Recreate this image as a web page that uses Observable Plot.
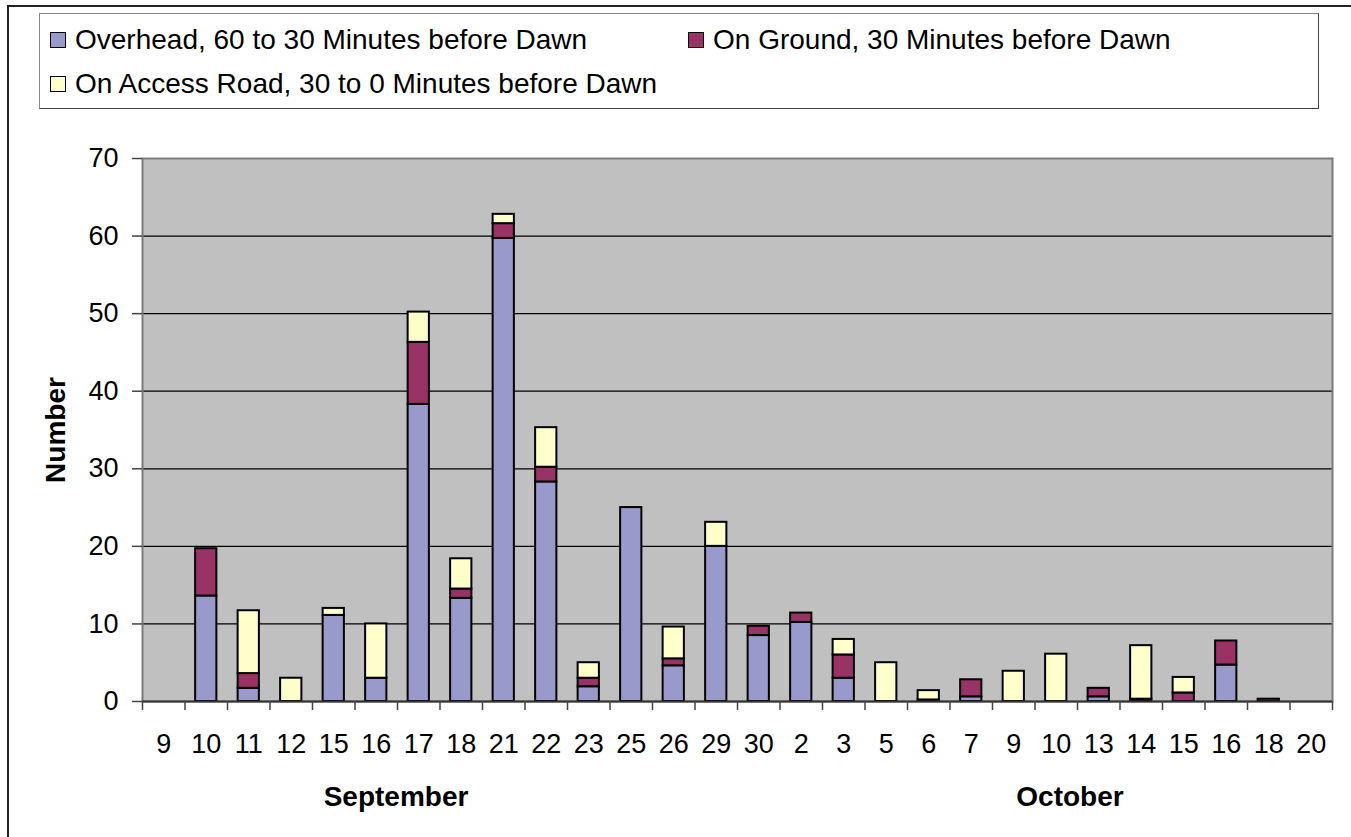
<!DOCTYPE html>
<html>
<head>
<meta charset="utf-8">
<script src="https://cdn.jsdelivr.net/npm/d3@7"></script>
<script src="https://cdn.jsdelivr.net/npm/@observablehq/plot@0.6"></script>
<style>
  html, body { margin: 0; padding: 0; background: #fff; }
  #chart { position: relative; width: 1351px; height: 837px; overflow: hidden;
           font-family: "Liberation Sans", Arial, sans-serif; color: #000; }
  #outer { position: absolute; left: 7px; top: 5px; width: 1400px; height: 900px;
           border-left: 2px solid #222; border-top: 2px solid #222; }
  #plot { position: absolute; left: 0; top: 0; }
  #legend { position: absolute; left: 39px; top: 13px; width: 1278px; height: 94px;
            border: 1px solid #444; border-top-color: #888; border-left-color: #888; background: #fff; }
  .item { position: absolute; display: flex; align-items: center; height: 30px;
          font-size: 28px; white-space: nowrap; }
  .sw { width: 14px; height: 14px; border: 1.5px solid #000; margin-right: 9px; flex: none; }
  .month { position: absolute; top: 781px; font-weight: bold; font-size: 28px;
           transform: translateX(-50%); white-space: nowrap; }
  #plot g[aria-label="y-axis label"] text { font-weight: bold; font-size: 28px; }
</style>
</head>
<body>
<div id="chart">
  <div id="outer"></div>
  <div id="plot"></div>
  <div id="legend"></div>
</div>
<script>
// Days of observation (September then October)
const days = [9, 10, 11, 12, 15, 16, 17, 18, 21, 22, 23, 25, 26, 29, 30,
              2, 3, 5, 6, 7, 9, 10, 13, 14, 15, 16, 18, 20];
const months = ["Sep", "Sep", "Sep", "Sep", "Sep", "Sep", "Sep", "Sep", "Sep", "Sep", "Sep", "Sep", "Sep", "Sep", "Sep",
                "Oct", "Oct", "Oct", "Oct", "Oct", "Oct", "Oct", "Oct", "Oct", "Oct", "Oct", "Oct", "Oct"];

// Counts per series
const overhead = [0, 13.6, 1.7, 0, 11.1, 3.0, 38.3, 13.3, 59.7, 28.3, 1.9, 25.0, 4.6, 20.0, 8.5,
                  10.2, 3.0, 0, 0, 0.6, 0, 0, 0.6, 0, 0, 4.7, 0, 0];
const ground   = [0, 6.1, 1.9, 0, 0, 0, 8.0, 1.2, 1.9, 1.9, 1.1, 0, 0.9, 0, 1.2,
                  1.2, 3.0, 0, 0.2, 2.2, 0, 0, 1.1, 0.3, 1.1, 3.1, 0.3, 0];
const road     = [0, 0, 8.1, 3.0, 0.9, 7.0, 3.9, 3.9, 1.2, 5.1, 2.0, 0, 4.1, 3.1, 0,
                  0, 2.0, 5.0, 1.2, 0, 3.9, 6.1, 0, 6.9, 2.0, 0, 0, 0];

const seriesNames = ["Overhead, 60 to 30 Minutes before Dawn",
                     "On Ground, 30 Minutes before Dawn",
                     "On Access Road, 30 to 0 Minutes before Dawn"];
const colors = ["#9999CC", "#993366", "#FFFFCC"];
const yTicks = [0, 10, 20, 30, 40, 50, 60, 70];
const monthTitles = ["September", "October"];

// Unique band keys (day numbers repeat across months)
const keys = days.map((d, i) => `${months[i]} ${d}`);
const dayLabel = new Map(keys.map((k, i) => [k, String(days[i])]));

// Long-form table for stacking; empty segments are skipped
const seriesValues = [overhead, ground, road];
const rows = [];
seriesNames.forEach((name, j) => {
  seriesValues[j].forEach((v, i) => {
    if (v > 0) rows.push({key: keys[i], series: name, value: v});
  });
});

const W = 1351, H = 837;
const mL = 142, mR = 19, mT = 158, mB = 136;
const step = (W - mL - mR) / keys.length;

const chart = Plot.plot({
  width: W,
  height: H,
  marginLeft: mL,
  marginRight: mR,
  marginTop: mT,
  marginBottom: mB,
  style: {fontFamily: '"Liberation Sans", Arial, sans-serif', fontSize: "27px",
          color: "#000", background: "transparent", overflow: "visible"},
  x: {type: "band", domain: keys, padding: 0, round: false, axis: null, label: null},
  y: {domain: [0, 70], axis: null, label: null},
  color: {domain: seriesNames, range: colors},
  marks: [
    Plot.frame({fill: "#C0C0C0", stroke: null}),
    Plot.gridY(yTicks.filter(t => t > 0 && t < 70), {stroke: "#000", strokeOpacity: 1, strokeWidth: 1.2}),
    Plot.frame({stroke: "#7a7a7a", strokeWidth: 2}),
    Plot.barY(rows, Plot.stackY({
      x: "key", y: "value", fill: "series",
      stroke: "#000", strokeWidth: 2,
      insetLeft: step / 4, insetRight: step / 4
    })),
    Plot.ruleY([0], {stroke: "#333", strokeWidth: 2}),
    // category boundary ticks below the baseline
    Plot.ruleX(keys, {x: d => d, dx: -step / 2, insetTop: H - mT - mB, insetBottom: -9, stroke: "#444", strokeWidth: 1.5}),
    Plot.ruleX(keys.slice(-1), {x: d => d, dx: step / 2, insetTop: H - mT - mB, insetBottom: -9, stroke: "#444", strokeWidth: 1.5}),
    Plot.axisX({tickSize: 0, tickPadding: 32, tickFormat: k => dayLabel.get(k), label: null}),
    Plot.axisY({ticks: yTicks, tickSize: 10, tickPadding: 14, stroke: "#444", strokeWidth: 1.5,
                label: "Number", labelArrow: "none", labelAnchor: "center", labelOffset: 97})
  ]
});
document.getElementById("plot").appendChild(chart);

// Legend
const legend = document.getElementById("legend");
const legendPos = [[10, 11], [648, 11], [10, 55]];
seriesNames.forEach((name, j) => {
  const item = document.createElement("div");
  item.className = "item";
  item.style.left = legendPos[j][0] + "px";
  item.style.top = legendPos[j][1] + "px";
  const sw = document.createElement("span");
  sw.className = "sw";
  sw.style.background = colors[j];
  const label = document.createElement("span");
  label.textContent = name;
  item.append(sw, label);
  legend.appendChild(item);
});

// Month titles under the day labels
const monthCenters = [396, 1070];
monthTitles.forEach((m, i) => {
  const el = document.createElement("div");
  el.className = "month";
  el.style.left = monthCenters[i] + "px";
  el.textContent = m;
  document.getElementById("chart").appendChild(el);
});
</script>
</body>
</html>
